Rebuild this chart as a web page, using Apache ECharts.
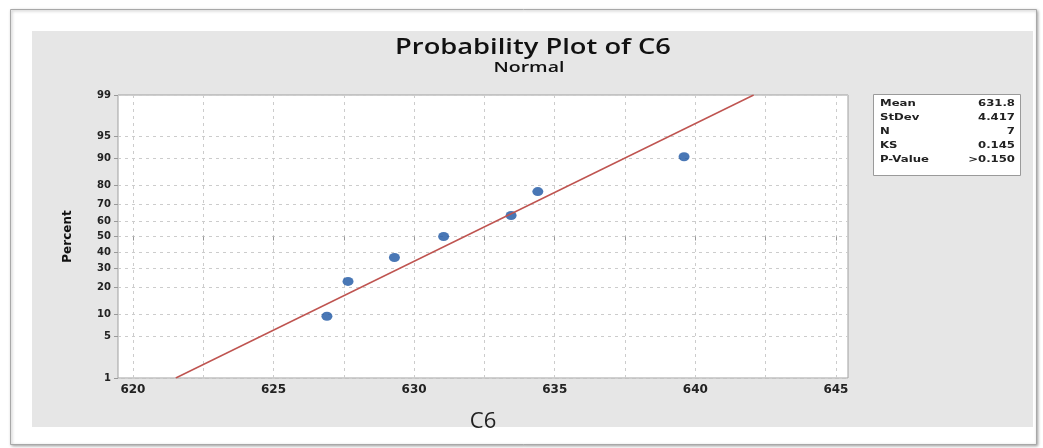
<!DOCTYPE html>
<html lang="en">
<head>
  <meta charset="UTF-8">
  <script src="https://cdn.jsdelivr.net/npm/echarts@6/dist/echarts.min.js"></script>
  <title>Probability Plot of C6</title>
</head>
<body>
  <div id="chart"></div>
</body>
<style>
  html,body{
    padding: 0;
    margin: 0;
    height: 448px;
    width: 1043px;
    background: #fff;
  }
  #chart {
    height: 448px;
    width: 1043px;
  }
</style>
</html>
<script>
// data
const c6Values = [626.9, 627.65, 629.3, 631.05, 633.45, 634.4, 639.6];
const percentValues = [9.5, 23.0, 36.5, 50.0, 63.5, 77.0, 90.5];
const percentTicks = [1, 5, 10, 20, 30, 40, 50, 60, 70, 80, 90, 95, 99];
const xLabels = [620, 625, 630, 635, 640, 645];
const xGridTicks = [620, 622.5, 625, 627.5, 630, 632.5, 635, 637.5, 640, 642.5, 645];
const statNames = ['Mean', 'StDev', 'N', 'KS', 'P-Value'];
const statValues = ['631.8', '4.417', '7', '0.145', '>0.150'];
const fitMean = 631.8;
const fitSd = 4.417;

// inverse normal cdf (Acklam)
function normInv(p) {
  const a = [-3.969683028665376e+01, 2.209460984245205e+02, -2.759285104469687e+02, 1.383577518672690e+02, -3.066479806614716e+01, 2.506628277459239e+00];
  const b = [-5.447609879822406e+01, 1.615858368580409e+02, -1.556989798598866e+02, 6.680131188771972e+01, -1.328068155288572e+01];
  const c = [-7.784894002430293e-03, -3.223964580411365e-01, -2.400758277161838e+00, -2.549732539343734e+00, 4.374664141464968e+00, 2.938163982698783e+00];
  const d = [7.784695709041462e-03, 3.224671290700398e-01, 2.445134137142996e+00, 3.754408661907416e+00];
  const pl = 0.02425;
  let q, r;
  if (p < pl) {
    q = Math.sqrt(-2 * Math.log(p));
    return (((((c[0]*q+c[1])*q+c[2])*q+c[3])*q+c[4])*q+c[5]) / ((((d[0]*q+d[1])*q+d[2])*q+d[3])*q+1);
  }
  if (p > 1 - pl) {
    q = Math.sqrt(-2 * Math.log(1 - p));
    return -(((((c[0]*q+c[1])*q+c[2])*q+c[3])*q+c[4])*q+c[5]) / ((((d[0]*q+d[1])*q+d[2])*q+d[3])*q+1);
  }
  q = p - 0.5; r = q * q;
  return (((((a[0]*r+a[1])*r+a[2])*r+a[3])*r+a[4])*r+a[5])*q / (((((b[0]*r+b[1])*r+b[2])*r+b[3])*r+b[4])*r+1);
}

const zTicks = percentTicks.map(p => normInv(p / 100));
const zMin = zTicks[0];
const zMax = zTicks[zTicks.length - 1];
const points = c6Values.map((x, i) => [x, normInv(percentValues[i] / 100)]);
const fitLine = [[fitMean + fitSd * zMin, zMin], [fitMean + fitSd * zMax, zMax]];

const gridLine = { show: true, lineStyle: { color: '#cccccc', type: [3, 4], width: 1 } };
const labelFont = { color: '#222', fontFamily: 'DejaVu Sans', fontWeight: 'bold' };

// the reference image is stretched sideways, so the free texts get scaleX
const stretch = 1.3;
const statTexts = [];
statNames.forEach((name, i) => {
  statTexts.push({
    type: 'text', x: 880, y: 104 + i * 14, scaleX: stretch,
    style: { text: name, fill: '#222', font: 'bold 9px "DejaVu Sans"', verticalAlign: 'middle' }
  });
  statTexts.push({
    type: 'text', x: 1015, y: 104 + i * 14, scaleX: stretch,
    style: { text: statValues[i], fill: '#222', font: 'bold 9px "DejaVu Sans"', align: 'right', verticalAlign: 'middle' }
  });
});

let option = {
  animation: false,
  backgroundColor: '#fff',
  graphic: [
    {
      type: 'rect', z: -10, silent: true,
      shape: { x: 10.5, y: 9.5, width: 1026, height: 435 },
      style: { fill: '#fff', stroke: '#a8a8a8', lineWidth: 1, shadowBlur: 3, shadowColor: 'rgba(0,0,0,0.35)', shadowOffsetX: 1, shadowOffsetY: 1 }
    },
    {
      type: 'rect', z: -9, silent: true,
      shape: { x: 32, y: 31, width: 1001, height: 396 },
      style: { fill: '#e6e6e6' }
    },
    {
      type: 'text', x: 533, y: 48, scaleX: stretch,
      style: { text: 'Probability Plot of C6', fill: '#111', font: '600 21px "Open Sans"', align: 'center', verticalAlign: 'middle' }
    },
    {
      type: 'text', x: 529, y: 68, scaleX: stretch,
      style: { text: 'Normal', fill: '#111', font: '600 15px "Open Sans"', align: 'center', verticalAlign: 'middle' }
    },
    {
      type: 'rect', silent: true,
      shape: { x: 873.5, y: 94.5, width: 147, height: 81 },
      style: { fill: '#fff', stroke: '#9a9a9a', lineWidth: 1 }
    },
    ...statTexts
  ],
  grid: {
    left: 118,
    top: 95,
    width: 730,
    height: 283,
    show: true,
    backgroundColor: '#fff',
    borderColor: '#a0a0a0',
    borderWidth: 1
  },
  xAxis: {
    type: 'value',
    min: 619.47,
    max: 645.43,
    name: 'C6',
    nameLocation: 'middle',
    nameGap: 33,
    nameTextStyle: { fontFamily: 'Open Sans', fontSize: 22, color: '#222' },
    axisLine: { show: false },
    axisTick: { show: true, length: 4, customValues: xGridTicks, lineStyle: { color: '#999' } },
    axisLabel: { ...labelFont, fontSize: 12, margin: 6, customValues: xLabels },
    splitLine: gridLine
  },
  yAxis: {
    type: 'value',
    min: zMin,
    max: zMax,
    name: 'Percent',
    nameLocation: 'middle',
    nameRotate: 90,
    nameGap: 44,
    nameTextStyle: { fontFamily: 'DejaVu Sans', fontWeight: 'bold', fontSize: 12, color: '#111' },
    axisLine: { show: false },
    axisTick: { show: true, length: 4, customValues: zTicks, lineStyle: { color: '#999' } },
    axisLabel: {
      ...labelFont,
      fontSize: 10,
      margin: 7,
      customValues: zTicks,
      formatter: (v) => {
        const i = zTicks.findIndex(z => Math.abs(z - v) < 1e-6);
        return i >= 0 ? String(percentTicks[i]) : '';
      }
    },
    splitLine: gridLine
  },
  series: [
    {
      name: 'Fit',
      type: 'line',
      data: fitLine,
      symbol: 'none',
      lineStyle: { color: '#bf5450', width: 1.4 },
      silent: true
    },
    {
      name: 'C6',
      type: 'scatter',
      data: points,
      symbol: 'circle',
      symbolSize: [11, 9],
      itemStyle: { color: '#1b55a3' }
    }
  ]
};

const chartDom = document.getElementById('chart');
const myChart = echarts.init(chartDom);
option && myChart.setOption(option);
</script>
